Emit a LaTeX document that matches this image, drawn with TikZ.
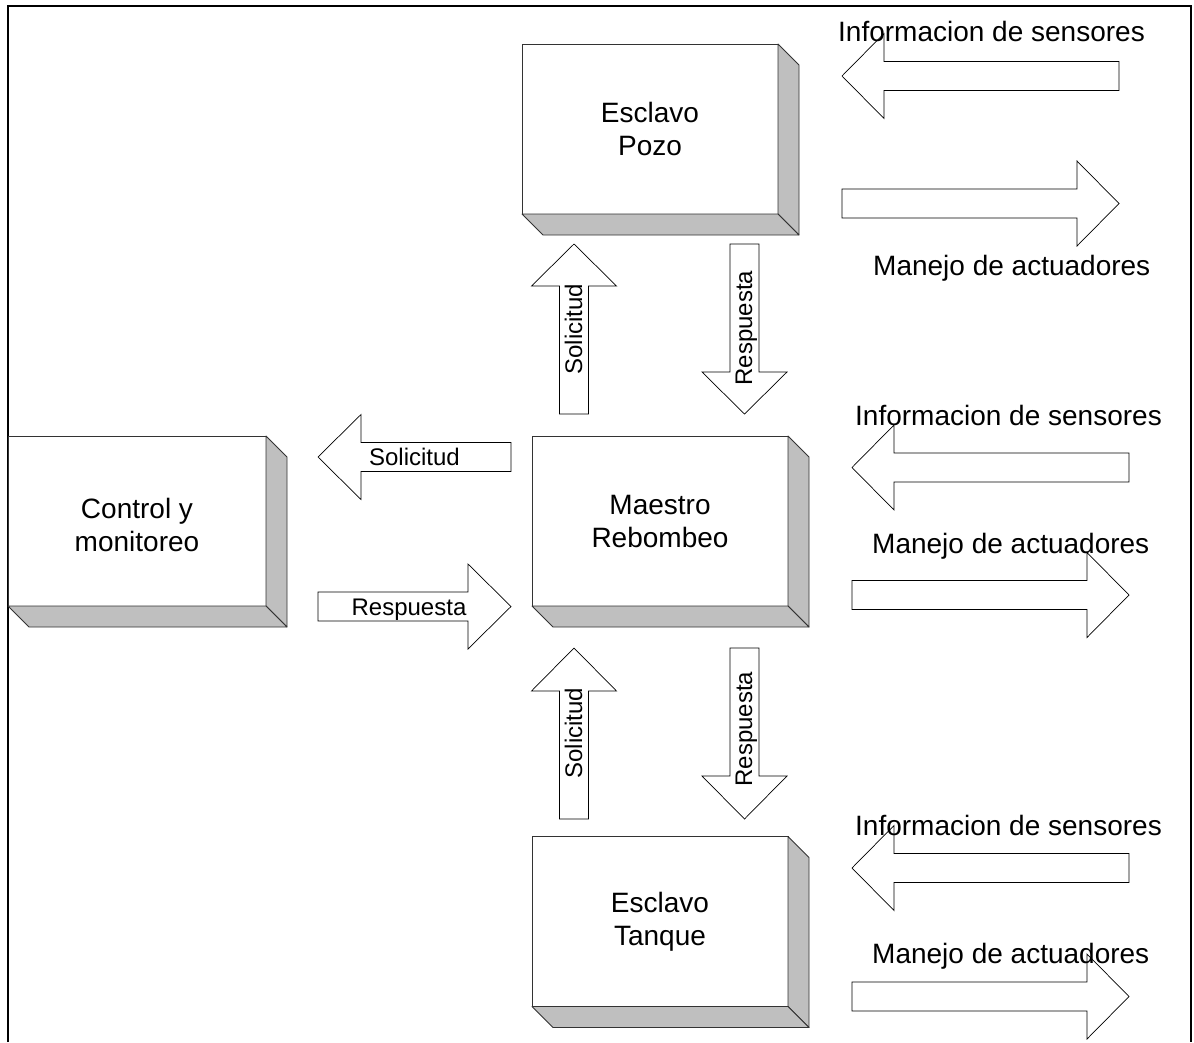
\documentclass[tikz,border=0pt]{standalone}
\usepackage{fontspec}
\setmainfont{Liberation Sans}
\tikzset{
  box/.style={draw=black!80, fill=white, line width=0.8pt, minimum width=256pt, minimum height=170pt,
    inner sep=0pt, outer sep=0pt, align=center, font=\fontsize{28}{33}\selectfont},
  side/.style={draw=black!80, fill=black!25, line width=0.8pt, line join=round},
  barrow/.style={draw=black, fill=white, line width=0.7pt},
  biglbl/.style={inner sep=0pt, font=\fontsize{28}{33}\selectfont},
  smalllbl/.style={inner sep=0pt, font=\fontsize{24}{28}\selectfont},
  frame/.style={draw=black, line width=2pt}
}
% horizontal block arrow: tip x, centre y, head back x, tail x
\newcommand{\blkarrH}[4]{\draw[barrow] (#1,#2) -- (#3,#2-42.5) -- (#3,#2-14.5) -- (#4,#2-14.5) -- (#4,#2+14.5) -- (#3,#2+14.5) -- (#3,#2+42.5) -- cycle;}
% vertical block arrow: centre x, tip y, head base y, tail y
\newcommand{\blkarrV}[4]{\draw[barrow] (#1,#2) -- (#1+42.5,#3) -- (#1+14.5,#3) -- (#1+14.5,#4) -- (#1-14.5,#4) -- (#1-14.5,#3) -- (#1-42.5,#3) -- cycle;}
% 3D sides of a box node
\newcommand{\boxsides}[1]{%
  \filldraw[side] (#1.north east) -- ++(21,21) -- ([shift={(21,21)}]#1.south east) -- (#1.south east) -- cycle;
  \filldraw[side] (#1.south west) -- ++(21,21) -- ([shift={(21,21)}]#1.south east) -- (#1.south east) -- cycle;}
\begin{document}
\begin{tikzpicture}[x=1pt,y=-1pt]
\useasboundingbox (0,0) rectangle (1194,1042);
\fill[white] (0,0) rectangle (1194,1042);
% frame
\draw[frame] (8,1042) -- (8,6) -- (1191,6) -- (1191,1042);

% boxes
\node[box] (pozo) at (650,129) {Esclavo\\Pozo};
\boxsides{pozo}
\node[box, minimum width=258pt] (control) at (137,521) {\rule{0pt}{28pt}Control y\\monitoreo};
\boxsides{control}
\node[box] (maestro) at (660,521) {Maestro\\Rebombeo};
\boxsides{maestro}
\node[box] (tanque) at (660,921.5) {Esclavo\\Tanque};
\boxsides{tanque}

% right side arrows
\blkarrH{842}{76}{884}{1119}
\blkarrH{1119}{203.5}{1077}{842}
\blkarrH{852}{467.5}{894}{1129}
\blkarrH{1129}{595}{1087}{852}
\blkarrH{852}{868}{894}{1129}
\blkarrH{1129}{996.5}{1087}{852}
% control <-> maestro
\blkarrH{318}{457}{361}{511}
\blkarrH{511}{606.5}{468}{318}
% vertical arrows
\blkarrV{574}{244}{286}{414}
\blkarrV{744.5}{414}{372}{244}
\blkarrV{574}{648}{691}{819}
\blkarrV{744.5}{819}{776}{648}

% right side labels
\node[biglbl, anchor=base west] (info1) at (838,41) {Informacion de sensores};
\node[biglbl, anchor=base west] (man1) at (873,275) {Manejo de actuadores};
\node[biglbl, anchor=base west] (info2) at (855,425) {Informacion de sensores};
\node[biglbl, anchor=base west] (man2) at (872,553) {Manejo de actuadores};
\node[biglbl, anchor=base west] (info3) at (855,835) {Informacion de sensores};
\node[biglbl, anchor=base west] (man3) at (872,963) {Manejo de actuadores};

% arrow labels
\node[smalllbl, anchor=base] (sol1) at (414.5,465) {Solicitud};
\node[smalllbl, anchor=base] (resp1) at (409,615) {Respuesta};
\node[smalllbl, anchor=base, rotate=90] (sol2) at (582,329) {Solicitud};
\node[smalllbl, anchor=base, rotate=90] (resp2) at (752,328) {Respuesta};
\node[smalllbl, anchor=base, rotate=90] (sol3) at (582,733) {Solicitud};
\node[smalllbl, anchor=base, rotate=90] (resp3) at (752,729) {Respuesta};
\end{tikzpicture}
\end{document}
